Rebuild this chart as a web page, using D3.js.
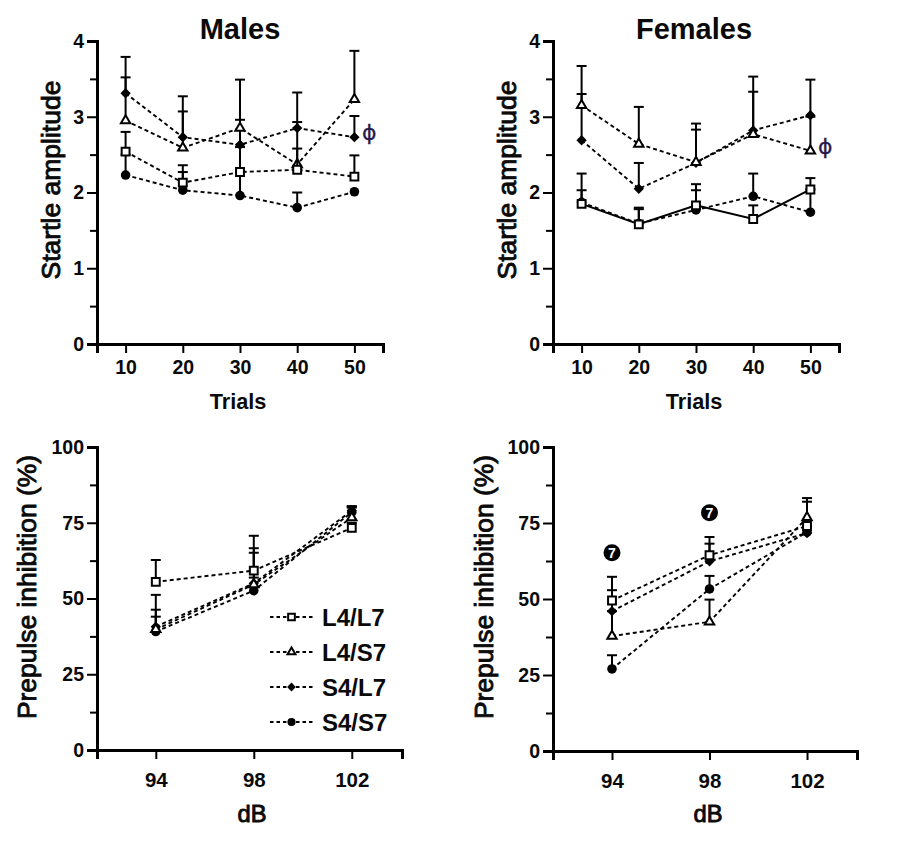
<!DOCTYPE html>
<html>
<head>
<meta charset="utf-8">
<script src="https://d3js.org/d3.v7.min.js"></script>
<style>
html,body{margin:0;padding:0;background:#fff;}
svg{display:block;}
text{font-family:"Liberation Sans",Arial,sans-serif;fill:#0a0a0a;}
</style>
</head>
<body>
<svg id="chart" width="899" height="842"></svg>
<script>
// ---------- categories and tick labels ----------
const seriesNames = ["S4/S7", "S4/L7", "L4/S7", "L4/L7"];   // drawing order, back to front
const legendOrder = ["L4/L7", "L4/S7", "S4/L7", "S4/S7"];
const trials = [10, 20, 30, 40, 50];
const decibels = [94, 98, 102];
const startleMajorTicks = [0, 1, 2, 3, 4];
const startleMinorTicks = [0.5, 1.5, 2.5, 3.5];
const ppiMajorTicks = [0, 25, 50, 75, 100];
const ppiMinorTicks = [12.5, 37.5, 62.5, 87.5];

// ---------- Males, startle amplitude ----------
const maleStartleL4L7 = [2.54, 2.13, 2.27, 2.30, 2.21];
const maleStartleL4L7Top = [2.80, 2.36, 2.60, 2.58, 2.49];
const maleStartleL4S7 = [2.95, 2.59, 2.85, 2.37, 3.23];
const maleStartleL4S7Top = [3.52, 3.07, 3.49, 2.93, 3.87];
const maleStartleS4L7 = [3.31, 2.73, 2.63, 2.85, 2.73];
const maleStartleS4L7Top = [3.79, 3.27, 2.96, 3.32, 3.01];
const maleStartleS4S7 = [2.23, 2.03, 1.96, 1.80, 2.01];
const maleStartleS4S7Top = [2.50, 2.27, 2.27, 2.00, 2.01];

// ---------- Females, startle amplitude ----------
const femaleStartleL4L7 = [1.85, 1.58, 1.83, 1.65, 2.04];
const femaleStartleL4L7Top = [2.03, 1.80, 2.11, 1.83, 2.19];
const femaleStartleL4S7 = [3.15, 2.64, 2.40, 2.77, 2.55];
const femaleStartleL4S7Top = [3.67, 3.13, 2.91, 3.33, 3.00];
const femaleStartleS4L7 = [2.69, 2.05, 2.39, 2.82, 3.02];
const femaleStartleS4L7Top = [3.30, 2.39, 2.83, 3.53, 3.49];
const femaleStartleS4S7 = [1.87, 1.59, 1.77, 1.95, 1.74];
const femaleStartleS4S7Top = [2.25, 1.78, 2.03, 2.25, 2.04];

// ---------- Males, prepulse inhibition ----------
const malePpiL4L7 = [55.5, 59.2, 73.3];
const malePpiL4L7Top = [62.7, 70.7, 75.0];
const malePpiL4S7 = [39.8, 54.6, 76.7];
const malePpiL4S7Top = [46.3, 65.1, 80.0];
const malePpiS4L7 = [40.7, 55.0, 79.0];
const malePpiS4L7Top = [51.2, 66.6, 80.5];
const malePpiS4S7 = [39.1, 52.6, 78.5];
const malePpiS4S7Top = [44.0, 56.9, 80.3];

// ---------- Females, prepulse inhibition ----------
const femalePpiL4L7 = [49.5, 64.4, 74.0];
const femalePpiL4L7Top = [52.9, 68.2, 76.0];
const femalePpiL4S7 = [37.8, 42.5, 76.8];
const femalePpiL4S7Top = [46.0, 49.8, 82.0];
const femalePpiS4L7 = [46.0, 62.4, 71.7];
const femalePpiS4L7Top = [57.3, 70.4, 83.2];
const femalePpiS4S7 = [27.0, 53.3, 72.0];
const femalePpiS4S7Top = [31.5, 57.6, 74.0];

// ---------- annotations ----------
const malePhi = [52.6, 2.78];
const femalePhi = [52.6, 2.60];
const femaleBadgesX = [94, 98];
const femaleBadgesY = [65.2, 78.4];

// ---------- drawing ----------
const svg = d3.select("#chart");
const symbols = {"L4/L7": d3.symbolSquare, "L4/S7": d3.symbolTriangle, "S4/L7": d3.symbolDiamond2, "S4/S7": d3.symbolCircle};
const sizes = {"L4/L7": 62, "L4/S7": 38, "S4/L7": 68, "S4/S7": 72};
const hollow = name => name.startsWith("L4");

function mark(sel, name, scale) {
  const k = scale || 1;
  sel.attr("d", d3.symbol().type(symbols[name]).size(sizes[name] * k * k)())
     .attr("fill", hollow(name) ? "#fff" : "#000")
     .attr("stroke", hollow(name) ? "#000" : "none")
     .attr("stroke-width", 2);
}

function panel(cfg) {
  const x = d3.scaleLinear().domain(cfg.xDomain).range(cfg.xRange);
  const y = d3.scaleLinear().domain(cfg.yDomain).range(cfg.yRange);
  const g = svg.append("g");

  cfg.series.forEach(s => {
    const pts = cfg.xs.map((v, i) => ({x: v, y: s.values[i], top: s.tops[i]}));
    const sg = g.append("g");
    sg.append("path")
      .attr("d", d3.line().x(d => x(d.x)).y(d => y(d.y))(pts))
      .attr("fill", "none").attr("stroke", "#000").attr("stroke-width", s.solid ? 2 : 1.9)
      .attr("stroke-dasharray", s.solid ? null : "4,3");
    const e = sg.selectAll("g.err").data(pts).join("g");
    e.append("line").attr("x1", d => x(d.x)).attr("x2", d => x(d.x))
      .attr("y1", d => y(d.y)).attr("y2", d => y(d.top))
      .attr("stroke", "#000").attr("stroke-width", 2);
    e.filter(d => d.top > d.y).append("line")
      .attr("x1", d => x(d.x) - 5).attr("x2", d => x(d.x) + 5)
      .attr("y1", d => y(d.top)).attr("y2", d => y(d.top))
      .attr("stroke", "#000").attr("stroke-width", 2);
    sg.selectAll("path.m").data(pts).join("path").attr("class", "m")
      .attr("transform", d => `translate(${x(d.x)},${y(d.y)})`)
      .call(mark, s.name);
  });

  // axes
  const styleAxis = size => a => {
    a.selectAll(".domain").attr("stroke", "#000").attr("stroke-width", 3);
    a.selectAll(".tick line").attr("stroke", "#000").attr("stroke-width", 2);
    a.selectAll("text").attr("font-size", size).attr("font-weight", "bold").style("fill", "#0a0a0a");
  };
  g.append("g").attr("transform", `translate(${cfg.xRange[0]},0)`)
    .call(d3.axisLeft(y).tickValues(cfg.yMinor).tickSize(7).tickFormat(""))
    .call(styleAxis(19.5));
  g.append("g").attr("transform", `translate(${cfg.xRange[0]},0)`)
    .call(d3.axisLeft(y).tickValues(cfg.yMajor).tickSize(10).tickPadding(3).tickFormat(d3.format("d")))
    .call(styleAxis(19.5));
  g.append("g").attr("transform", `translate(0,${cfg.yRange[0]})`)
    .call(d3.axisBottom(x).tickValues(cfg.xs).tickSize(9).tickPadding(cfg.xTickPad).tickFormat(d3.format("d")))
    .call(styleAxis(cfg.xTickSize));

  // labels
  if (cfg.title) {
    g.append("text").attr("x", cfg.titleX).attr("y", 39).attr("text-anchor", "middle")
      .attr("font-size", 29).attr("font-weight", "bold").text(cfg.title);
  }
  const xl = g.append("text").attr("x", cfg.xLabelX).attr("y", cfg.xLabelY).attr("text-anchor", "middle")
    .attr("font-size", cfg.xLabelSize).attr("font-weight", cfg.xLabelWeight).text(cfg.xLabel);
  if (cfg.xLabelWeight === "normal") xl.attr("stroke", "#0a0a0a").attr("stroke-width", 0.9);
  g.append("text").attr("transform", `translate(${cfg.yLabelX},${cfg.yLabelY}) rotate(-90)`)
    .attr("text-anchor", "middle").attr("font-size", cfg.yLabelSize)
    .attr("stroke", "#0a0a0a").attr("stroke-width", 0.9).text(cfg.yLabel);

  if (cfg.phi) {
    g.append("text").attr("x", x(cfg.phi[0])).attr("y", y(cfg.phi[1]) + 7).attr("text-anchor", "middle")
      .attr("font-size", 22).style("font-family", "'DejaVu Sans'").style("fill", "#2a1a4a")
      .attr("stroke", "#2a1a4a").attr("stroke-width", 0.3).text("\u03D5");
  }
  if (cfg.badgesX) {
    cfg.badgesX.forEach((bx, i) => {
      g.append("circle").attr("cx", x(bx)).attr("cy", y(cfg.badgesY[i])).attr("r", 8.5).attr("fill", "#000");
      g.append("text").attr("x", x(bx)).attr("y", y(cfg.badgesY[i]) + 5).attr("text-anchor", "middle")
        .attr("font-size", 14).attr("font-weight", "bold").style("fill", "#fff").text("7");
    });
  }
}

const build = (names, v, t, solidName) => names.map(n => ({name: n, values: v[n], tops: t[n], solid: n === solidName}));

panel({
  xs: trials, xDomain: [5, 55], xRange: [97, 383], yDomain: [0, 4], yRange: [344, 41], xTickPad: 7, xTickSize: 19.5,
  yMajor: startleMajorTicks, yMinor: startleMinorTicks,
  title: "Males", titleX: 240, xLabel: "Trials", xLabelX: 238, xLabelY: 409, xLabelSize: 21.7, xLabelWeight: "bold",
  yLabel: "Startle amplitude", yLabelX: 60, yLabelY: 180, yLabelSize: 26.5, phi: malePhi,
  series: build(seriesNames,
    {"L4/L7": maleStartleL4L7, "L4/S7": maleStartleL4S7, "S4/L7": maleStartleS4L7, "S4/S7": maleStartleS4S7},
    {"L4/L7": maleStartleL4L7Top, "L4/S7": maleStartleL4S7Top, "S4/L7": maleStartleS4L7Top, "S4/S7": maleStartleS4S7Top})
});
panel({
  xs: trials, xDomain: [5, 55], xRange: [553, 839], yDomain: [0, 4], yRange: [344, 41], xTickPad: 7, xTickSize: 19.5,
  yMajor: startleMajorTicks, yMinor: startleMinorTicks,
  title: "Females", titleX: 694, xLabel: "Trials", xLabelX: 694, xLabelY: 409, xLabelSize: 21.7, xLabelWeight: "bold",
  yLabel: "Startle amplitude", yLabelX: 516, yLabelY: 180, yLabelSize: 26.5, phi: femalePhi,
  series: build(seriesNames,
    {"L4/L7": femaleStartleL4L7, "L4/S7": femaleStartleL4S7, "S4/L7": femaleStartleS4L7, "S4/S7": femaleStartleS4S7},
    {"L4/L7": femaleStartleL4L7Top, "L4/S7": femaleStartleL4S7Top, "S4/L7": femaleStartleS4L7Top, "S4/S7": femaleStartleS4S7Top}, "L4/L7")
});
panel({
  xs: decibels, xDomain: [91.6, 104.05], xRange: [97, 402], yDomain: [0, 100], yRange: [750, 447], xTickPad: 13, xTickSize: 20.5,
  yMajor: ppiMajorTicks, yMinor: ppiMinorTicks,
  xLabel: "dB", xLabelX: 252, xLabelY: 822, xLabelSize: 23.7, xLabelWeight: "normal",
  yLabel: "Prepulse inhibition (%)", yLabelX: 36, yLabelY: 587, yLabelSize: 26.4,
  series: build(seriesNames,
    {"L4/L7": malePpiL4L7, "L4/S7": malePpiL4S7, "S4/L7": malePpiS4L7, "S4/S7": malePpiS4S7},
    {"L4/L7": malePpiL4L7Top, "L4/S7": malePpiL4S7Top, "S4/L7": malePpiS4L7Top, "S4/S7": malePpiS4S7Top})
});
panel({
  xs: decibels, xDomain: [91.58, 104.05], xRange: [553, 857], yDomain: [0, 100], yRange: [751, 447], xTickPad: 13, xTickSize: 20.5,
  yMajor: ppiMajorTicks, yMinor: ppiMinorTicks,
  xLabel: "dB", xLabelX: 708, xLabelY: 822, xLabelSize: 23.7, xLabelWeight: "normal",
  yLabel: "Prepulse inhibition (%)", yLabelX: 493, yLabelY: 587, yLabelSize: 26.4,
  badgesX: femaleBadgesX, badgesY: femaleBadgesY,
  series: build(seriesNames,
    {"L4/L7": femalePpiL4L7, "L4/S7": femalePpiL4S7, "S4/L7": femalePpiS4L7, "S4/S7": femalePpiS4S7},
    {"L4/L7": femalePpiL4L7Top, "L4/S7": femalePpiL4S7Top, "S4/L7": femalePpiS4L7Top, "S4/S7": femalePpiS4S7Top})
});

// legend
const legendY = d3.scalePoint().domain(legendOrder).range([617, 722]);
const lg = svg.selectAll("g.legend").data(legendOrder).join("g").attr("class", "legend")
  .attr("transform", d => `translate(0,${legendY(d)})`);
lg.append("line").attr("x1", 270).attr("x2", 313).attr("stroke", "#000").attr("stroke-width", 1.8).attr("stroke-dasharray", "3.5,3");
lg.append("path").attr("transform", "translate(291.5,0)").each(function(d){ d3.select(this).call(mark, d, 0.85); });
lg.append("text").attr("x", 322).attr("y", 9).attr("font-size", 24).attr("font-weight", "bold").text(d => d);
</script>
</body>
</html>
